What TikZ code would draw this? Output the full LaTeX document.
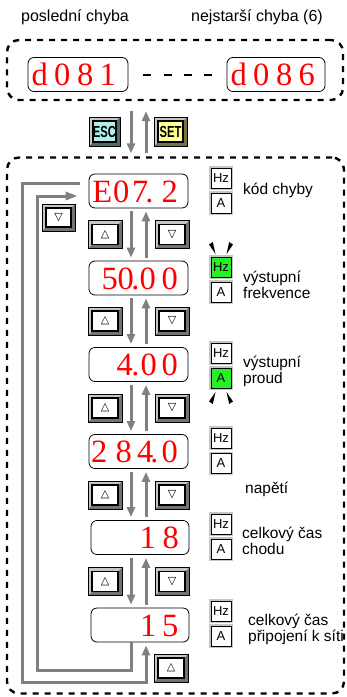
\documentclass[tikz,border=0pt]{standalone}
\usepackage{fontspec}
\setmainfont{Liberation Sans}
\newfontfamily\segf{Liberation Serif}
\newfontfamily\symf{DejaVu Sans}
\usepackage{graphicx}
\usetikzlibrary{arrows.meta,calc}
\definecolor{arrgray}{RGB}{128,128,128}
\definecolor{indgreen}{RGB}{40,240,40}
\definecolor{esccol}{RGB}{175,238,238}
\definecolor{setcol}{RGB}{255,255,150}
\newcommand\segc[2]{\rlap{\hspace*{#1pt}\makebox[0pt]{#2}}}
\newcommand\btntxt[1]{\scalebox{0.7}[1]{\fontsize{16}{16}\selectfont\bfseries #1}}
\newcommand\upsym{{\symf\fontsize{11}{11}\selectfont △}}
\newcommand\dnsym{{\symf\fontsize{11}{11}\selectfont ▽}}
\tikzset{
  btnfill/.store in=\btnfillcolor, btnfill=white,
}
\begin{document}
\begin{tikzpicture}[x=1pt,y=-1pt,
  gline/.style={draw=arrgray, line width=3pt},
  garr/.style={gline, -{Triangle[width=8pt,length=10pt]}, shorten <=3pt, shorten >=3pt},
  dbox/.style={draw, line width=2.4pt, dash pattern=on 6pt off 6pt, rounded corners=12pt, inner sep=0pt},
  disp/.style={draw, line width=0.8pt, rounded corners=6pt, fill=white, minimum width=99pt, minimum height=34pt, inner sep=0pt},
  segtxt/.style={anchor=base west, inner sep=0pt, text=red, font=\segf\fontsize{32.5}{32.5}\selectfont},
  lbl/.style={anchor=base west, inner sep=0pt, align=left, font=\fontsize{15.5}{16}\selectfont},
  ind/.style={draw, fill=white, line width=0.9pt, minimum width=20pt, minimum height=20pt, inner sep=0pt, font=\fontsize{13}{13}\selectfont, preaction={draw=gray!45, line width=3.5pt}},
  btn/.style={draw=black, line width=0.8pt, fill=gray!90!black, minimum width=34pt, minimum height=28pt, inner sep=0pt,
    path picture={
      \fill[gray!45] (path picture bounding box.north west) -- (path picture bounding box.north east) -- ([shift={(-4pt,-4pt)}]path picture bounding box.north east) -- ([shift={(4pt,-4pt)}]path picture bounding box.north west) -- ([shift={(4pt,4pt)}]path picture bounding box.south west) -- (path picture bounding box.south west) -- cycle;
      \draw[line width=1.5pt, fill=\btnfillcolor] ([shift={(4pt,4pt)}]path picture bounding box.south west) rectangle ([shift={(-4pt,-4pt)}]path picture bounding box.north east);}},
]
\useasboundingbox (0,0) rectangle (347,697);

% column coordinates
\coordinate (cd) at (131,0);
\coordinate (cu) at (146,0);
\coordinate (oBL) at (22,682);
\coordinate (iBL) at (37,670);

% top labels
\node[lbl, font=\fontsize{16}{16}\selectfont] (lt1) at (21,21) {poslední chyba};
\node[lbl, font=\fontsize{16}{16}\selectfont] (lt2) at (191,21) {nejstarší chyba (6)};

% dashed boxes
\node[dbox, minimum width=336pt, minimum height=60pt] (topbox) at (175,70) {};
\node[dbox, minimum width=337pt, minimum height=536pt] (mainbox) at (175.5,425.5) {};

% top displays
\node[disp, minimum width=100pt] (d1) at (78,74.5) {};
\node[segtxt] (d1t) at ([yshift=-11pt]d1.west) {\segc{11.5}{d}\segc{34}{0}\segc{57}{8}\segc{79.5}{1}};
\node[disp, minimum width=98pt] (d6) at (276,74.5) {};
\node[segtxt] (d6t) at ([yshift=-11pt]d6.west) {\segc{11.5}{d}\segc{34}{0}\segc{57}{8}\segc{79.5}{6}};
\draw[line width=2pt, dash pattern=on 8pt off 12.3pt, shorten <=15pt, shorten >=15pt] (d1.east) -- (d6.west);

% ESC / SET
\node[btn, fill=esccol!45!black, btnfill=esccol, minimum width=31pt, minimum height=29pt] (esc) at (104.5,131.5) {\btntxt{ESC}};
\node[btn, fill=setcol!45!black, btnfill=setcol, minimum width=33pt, minimum height=29pt] (set) at (170.5,131.5) {\btntxt{SET}};
\draw[garr, shorten <=10pt] (topbox.south -| cd) -- (mainbox.north -| cd);
\draw[garr, shorten >=10pt] (mainbox.north -| cu) -- (topbox.south -| cu);

% main displays
\node[disp] (e1) at (138.5,191) {};
\node[segtxt] (e1t) at ([yshift=-11pt]e1.west) {\segc{13}{E}\segc{32}{0}\segc{51}{7}\segc{60}{.}\segc{80.5}{2}};
\node[disp] (e2) at (138.5,278) {};
\node[segtxt] (e2t) at ([yshift=-11pt]e2.west) {\segc{20.5}{5}\segc{36.5}{0}\segc{46}{.}\segc{58.5}{0}\segc{80.5}{0}};
\node[disp] (e3) at (138.5,364.5) {};
\node[segtxt] (e3t) at ([yshift=-11pt]e3.west) {\segc{35.5}{4}\segc{46}{.}\segc{59.5}{0}\segc{80.5}{0}};
\node[disp] (e4) at (138.5,451.5) {};
\node[segtxt] (e4t) at ([yshift=-11pt]e4.west) {\segc{10}{2}\segc{34.5}{8}\segc{56}{4}\segc{65}{.}\segc{80.5}{0}};
\node[disp, minimum width=98pt] (e5) at (140,537.5) {};
\node[segtxt] (e5t) at ([yshift=-11pt]e5.west) {\segc{56.5}{1}\segc{79.5}{8}};
\node[disp, minimum width=98pt] (e6) at (140,625) {};
\node[segtxt] (e6t) at ([yshift=-11pt]e6.west) {\segc{57}{1}\segc{79}{5}};

% arrows between displays
\foreach \a/\b in {e1/e2,e2/e3,e3/e4,e4/e5,e5/e6}{
  \draw[garr] (\a.south -| cd) -- (\b.north -| cd);
  \draw[garr] (\b.north -| cu) -- (\a.south -| cu);
}

% buttons between displays
\foreach \y [count=\i] in {234.5,321,408,495,581.5}{
  \node[btn] (bu\i) at (105,\y) {\upsym};
  \node[btn] (bd\i) at (172,\y) {\dnsym};
}
\node[btn, minimum width=33pt, minimum height=27pt] (bleft) at (58.5,217.5) {\dnsym};
\node[btn] (bbot) at (171,668) {\upsym};

% loops
\draw[gline, -{Triangle[width=8pt,length=10pt]}, shorten >=3pt] ([shift={(-9,-8)}]e1.west) -| (oBL) -| (e6.south -| cu);
\draw[gline, -{Triangle[width=8pt,length=12pt]}] (e6.south -| cd) |- (iBL) |- ([shift={(-11,5)}]e1.west);

% indicators
\node[ind] (h1) at (221,178) {Hz};
\node[ind] (a1) at (221,203) {A};
\node[ind, fill=indgreen] (h2) at (221,267) {Hz};
\node[ind] (a2) at (221,292) {A};
\node[ind] (h3) at (221,353) {Hz};
\node[ind, fill=indgreen] (a3) at (221,378) {A};
\node[ind] (h4) at (221,438) {Hz};
\node[ind] (a4) at (221,463.5) {A};
\node[ind] (h5) at (221,524) {Hz};
\node[ind] (a5) at (221,549) {A};
\node[ind] (h6) at (221,611) {Hz};
\node[ind] (a6) at (221,636) {A};

% blink marks
\fill (215.5,254) -- (209,244.5) -- (212.8,242) -- cycle;
\fill (226.5,254) -- (233,244.5) -- (229.2,242) -- cycle;
\fill (215.5,392) -- (209,401.5) -- (212.8,404) -- cycle;
\fill (226.5,392) -- (233,401.5) -- (229.2,404) -- cycle;

% labels (multi-line nodes: base = last line)
\node[lbl] (l1) at (243,194) {kód chyby};
\node[lbl] (l2) at (243,298) {výstupní\\frekvence};
\node[lbl] (l3) at (243,383) {výstupní\\proud};
\node[lbl] (l4) at (245,493) {napětí};
\node[lbl] (l5) at (242,554) {celkový čas\\chodu};
\node[lbl] (l6) at (248,641) {celkový čas\\připojení k síti};
\end{tikzpicture}
\end{document}
